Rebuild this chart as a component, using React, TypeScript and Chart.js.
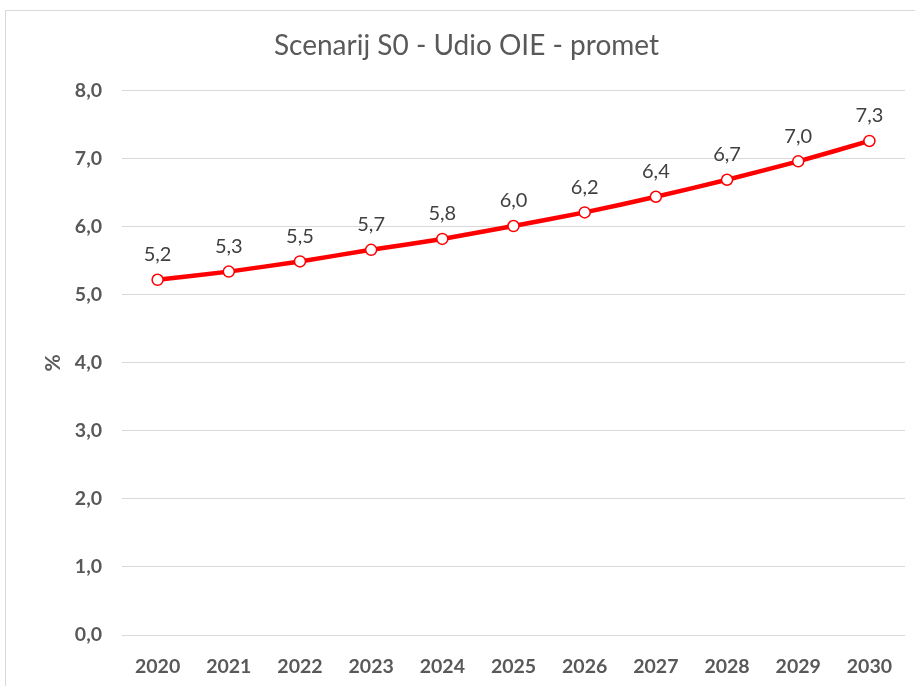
import React, { useEffect, useRef } from "react";
import { Chart, registerables } from "chart.js";

Chart.register(...registerables);

const titleText = "Scenarij S0 - Udio OIE - promet";
const years = ["2020", "2021", "2022", "2023", "2024", "2025", "2026", "2027", "2028", "2029", "2030"];
const shares = [5.22, 5.34, 5.49, 5.66, 5.82, 6.01, 6.21, 6.44, 6.69, 6.96, 7.26];
const yMin = 0;
const yMax = 8;
const yStep = 1;

const fmt = (v: number) => v.toFixed(1).replace(".", ",");
const FONT = "Lato, 'Open Sans', sans-serif";

const framePlugin = {
  id: "frame",
  beforeDraw(chart: any) {
    const ctx = chart.ctx;
    ctx.save();
    ctx.fillStyle = "#ffffff";
    ctx.fillRect(0, 0, chart.width, chart.height);
    ctx.strokeStyle = "#d9d9d9";
    ctx.lineWidth = 1;
    ctx.strokeRect(5.5, 10.5, chart.width + 10, chart.height + 10);
    ctx.restore();
  },
};

const labelPlugin = {
  id: "pointLabels",
  afterDatasetsDraw(chart: any) {
    const ctx = chart.ctx;
    const meta = chart.getDatasetMeta(0);
    const data = chart.data.datasets[0].data as number[];
    ctx.save();
    ctx.font = `20px ${FONT}`;
    ctx.fillStyle = "#404040";
    ctx.textAlign = "center";
    ctx.textBaseline = "middle";
    meta.data.forEach((pt: any, i: number) => {
      ctx.fillText(fmt(data[i]), pt.x, pt.y - 25);
    });
    ctx.restore();
  },
};

export default function App() {
  const ref = useRef<HTMLCanvasElement>(null);
  useEffect(() => {
    if (!ref.current) return;
    const chart = new Chart(ref.current, {
      type: "line",
      data: {
        labels: years,
        datasets: [
          {
            data: shares,
            borderColor: "#ff0000",
            borderWidth: 4.5,
            pointRadius: 5.5,
            pointBorderWidth: 1.5,
            pointBackgroundColor: "#ffffff",
            pointBorderColor: "#ff0000",
            tension: 0.2,
            fill: false,
          },
        ],
      },
      options: {
        responsive: false,
        animation: false,
        layout: { padding: { right: 10, bottom: 0, left: 28, top: 0 } },
        plugins: {
          legend: { display: false },
          tooltip: { enabled: false },
          title: {
            display: true,
            text: titleText,
            color: "#595959",
            font: { family: FONT, size: 28, weight: "normal" },
            padding: { top: 29, bottom: 28 },
          },
        },
        scales: {
          x: {
            offset: true,
            afterFit: (s: any) => {
              s.height = 51;
            },
            grid: { display: false, drawTicks: false },
            border: { display: false },
            ticks: {
              color: "#595959",
              font: { family: FONT, size: 19.5, weight: "bold" },
              padding: 20,
              maxRotation: 0,
            },
          },
          y: {
            min: yMin,
            max: yMax,
            afterFit: (s: any) => {
              s.width = 94;
            },
            grid: { color: "#d9d9d9", lineWidth: 1, drawTicks: false },
            border: { display: false },
            ticks: {
              stepSize: yStep,
              color: "#595959",
              font: { family: FONT, size: 19.5, weight: "bold" },
              padding: 20,
              callback: (v: any) => fmt(Number(v)),
            },
            title: {
              display: true,
              text: "%",
              color: "#595959",
              font: { family: FONT, size: 21, weight: "bold" },
              padding: { top: 13, bottom: 0 },
            },
          },
        },
      },
      plugins: [framePlugin, labelPlugin],
    });
    return () => chart.destroy();
  }, []);
  return (
    <div style={{ position: "absolute", left: 0, top: 0, width: 915, height: 686 }}>
      <canvas ref={ref} width={915} height={686} />
    </div>
  );
}
